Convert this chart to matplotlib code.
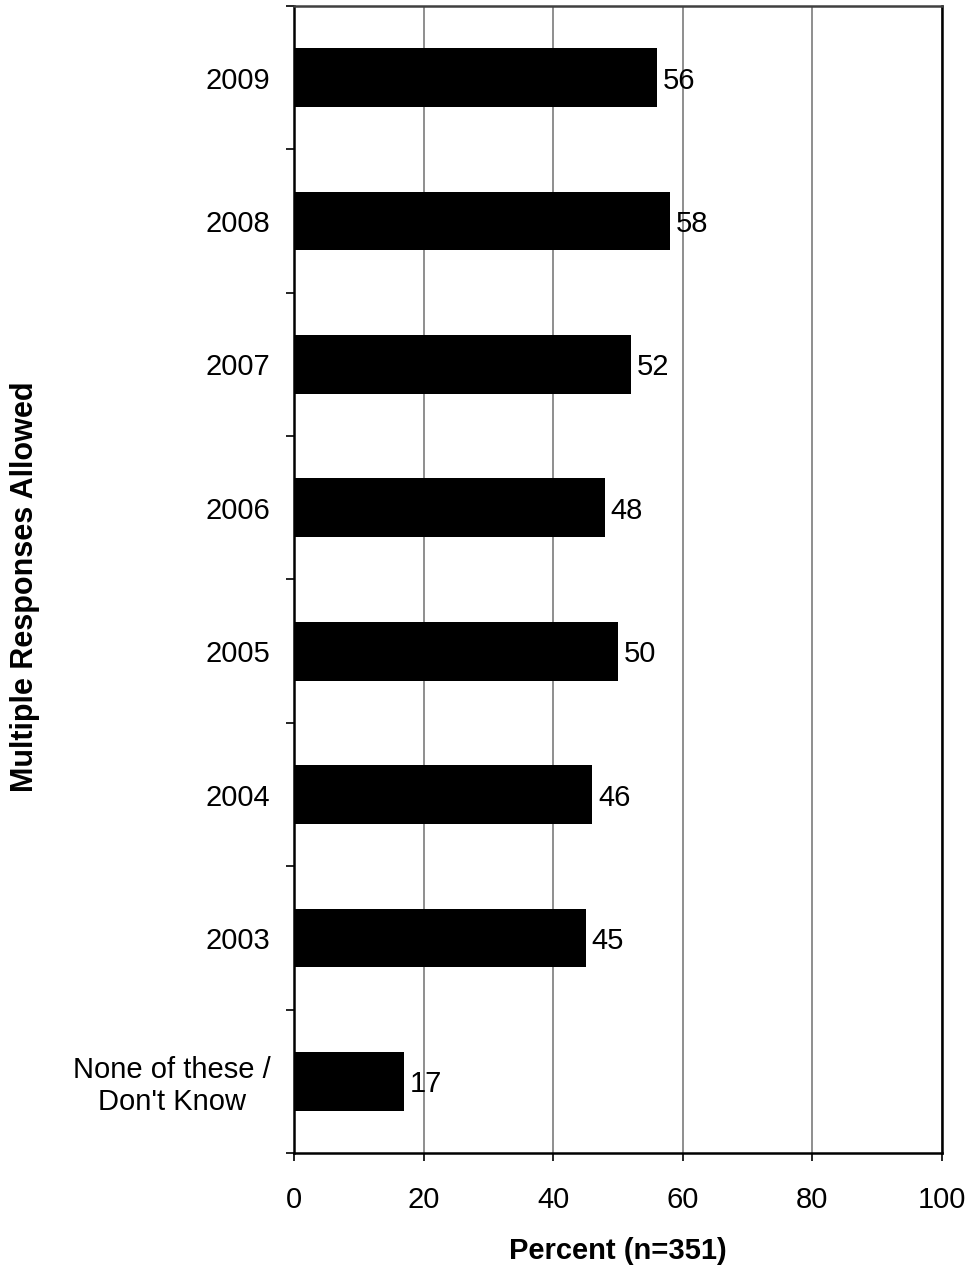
import matplotlib.pyplot as plt
import numpy as np

plt.rcParams['font.family'] = ['Liberation Sans', 'DejaVu Sans']

categories = ["2009", "2008", "2007", "2006", "2005", "2004", "2003",
              "None of these /\nDon't Know"]
percent = [56, 58, 52, 48, 50, 46, 45, 17]
x_ticks = [0, 20, 40, 60, 80, 100]

fig = plt.figure(figsize=(9.69, 12.68), dpi=100)
ax = fig.add_axes([0.3034, 0.0907, 0.6687, 0.9046])

n = len(categories)
y = np.arange(n)
ax.barh(y, percent, height=0.41, color="black", zorder=3)
for yi, v in zip(y, percent):
    ax.text(v + 0.9, yi, str(v), va="center_baseline", ha="left",
            fontsize=21, zorder=4)

ax.set_xlim(0, 100)
ax.set_ylim(n - 0.5, -0.5)
ax.set_xticks(x_ticks)
ax.set_xticklabels([str(t) for t in x_ticks], fontsize=21)
ax.tick_params(axis="x", direction="out", length=6, width=1.2, pad=18)

ax.set_yticks(y)
ax.set_yticklabels(categories, fontsize=21, multialignment="center",
                   linespacing=1.15)
ax.tick_params(axis="y", which="major", length=0, pad=17)
ax.set_yticks(np.arange(n + 1) - 0.5, minor=True)
ax.tick_params(axis="y", which="minor", direction="out", length=6, width=1.2)

ax.xaxis.grid(True, color="#707070", linewidth=1.1, zorder=0)
for s in ax.spines.values():
    s.set_linewidth(1.8)
    s.set_color("black")
ax.spines["top"].set_color("#404040")

ax.set_xlabel("Percent (n=351)", fontsize=21, fontweight="bold", labelpad=16)
ax.set_ylabel("Multiple Responses Allowed", fontsize=22, fontweight="bold")
ax.yaxis.set_label_coords(-0.392, 0.494)

fig.savefig("out.png", dpi=100)
